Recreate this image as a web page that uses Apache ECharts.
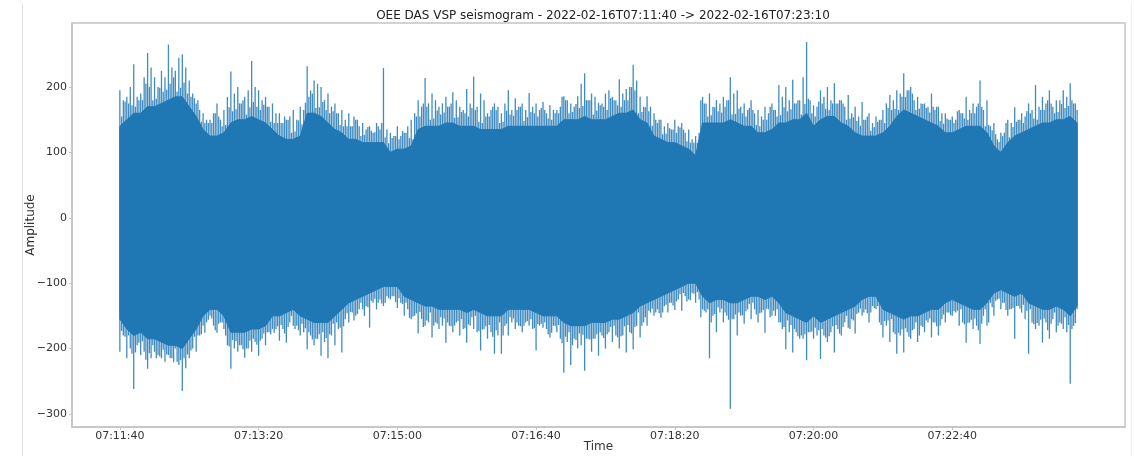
<!DOCTYPE html>
<html>
<head>
<meta charset="utf-8">
<script src="https://cdn.jsdelivr.net/npm/echarts@6/dist/echarts.min.js"></script>
<style>html,body{margin:0;padding:0;background:#fff;}#c{width:1134px;height:456px;}</style>
</head>
<body>
<div id="c"></div>
<script>
const titleText = 'OEE DAS VSP seismogram - 2022-02-16T07:11:40 -> 2022-02-16T07:23:10';
const binSeconds = 5; // envelope bins, seconds after 07:11:40
const xTickSeconds = [0, 100, 200, 300, 400, 500, 600];
const xTickLabels = ['07:11:40', '07:13:20', '07:15:00', '07:16:40', '07:18:20', '07:20:00', '07:22:40'];
const yTicks = [-300, -200, -100, 0, 100, 200];

// envelope peaks (spike tips) at bin starts
const upperPeak = [195,185,235,190,252,215,225,265,225,250,210,175,160,150,175,165,224,200,185,240,
195,185,175,160,150,165,170,232,210,200,190,175,165,160,150,145,140,145,229,130,
140,130,150,180,214,190,170,185,192,170,197,216,190,160,175,160,195,183,175,191,
175,177,172,165,186,175,186,221,190,176,190,185,212,197,234,185,186,160,150,145,
150,145,135,125,185,190,180,185,215,195,175,180,165,170,175,203,200,211,180,269,
172,195,200,206,180,188,170,177,160,155,165,188,195,221,200,185,175,190,170,160,
155,165,185,175,210,180,145,130,150,169,160,175,203,185,195,180,195,206,165];
const lowerPeak = [-205,-215,-262,-210,-231,-205,-215,-210,-200,-265,-215,-205,-165,-150,-176,-170,-231,-205,-214,-205,
-211,-195,-170,-188,-191,-165,-180,-201,-195,-211,-215,-195,-206,-160,-150,-140,-168,-140,-135,-125,
-138,-150,-155,-177,-165,-183,-170,-191,-175,-180,-191,-170,-203,-185,-208,-208,-180,-170,-175,-165,
-203,-168,-183,-175,-237,-225,-200,-234,-205,-211,-200,-190,-200,-206,-201,-183,-165,-150,-153,-145,
-141,-142,-125,-130,-140,-215,-175,-160,-292,-180,-162,-155,-160,-176,-150,-160,-201,-206,-185,-218,
-185,-216,-190,-206,-180,-168,-177,-150,-160,-140,-183,-190,-208,-206,-185,-190,-175,-183,-180,-160,
-150,-165,-191,-170,-193,-165,-150,-140,-150,-185,-145,-208,-170,-191,-185,-175,-170,-254,-140];
// spike tips half-way between bins
const upperMid = [180,200,185,215,230,200,215,230,245,230,190,165,150,160,150,185,190,175,195,200,
180,170,160,145,155,150,165,195,205,180,170,160,150,140,140,135,130,135,135,125,
125,140,160,170,175,180,175,170,180,165,175,170,180,165,170,175,165,170,165,170,
165,160,165,170,180,170,205,180,185,175,195,180,190,200,210,170,170,145,140,135,
140,130,120,130,175,170,175,180,190,170,165,160,155,160,165,185,180,175,215,180,
170,185,180,175,170,160,155,150,145,150,175,180,190,195,180,175,170,165,160,150,
150,160,165,170,165,140,120,130,145,150,155,165,170,175,170,180,185,175];
const lowerMid = [-180,-200,-195,-205,-215,-210,-220,-215,-225,-230,-200,-180,-160,-165,-160,-195,-200,-195,-200,-190,
-185,-175,-170,-170,-160,-165,-175,-180,-185,-190,-180,-170,-155,-145,-140,-135,-130,-125,-120,-120,
-130,-140,-150,-155,-160,-160,-165,-165,-160,-170,-165,-175,-170,-175,-180,-165,-160,-165,-160,-170,
-165,-170,-165,-185,-190,-185,-195,-185,-185,-180,-175,-180,-180,-175,-165,-160,-145,-140,-135,-130,
-125,-120,-115,-125,-145,-150,-145,-150,-155,-150,-140,-140,-145,-140,-150,-170,-175,-175,-185,-175,
-180,-180,-175,-170,-160,-155,-145,-140,-135,-160,-165,-175,-180,-175,-170,-165,-160,-160,-155,-145,
-145,-160,-160,-165,-150,-130,-125,-130,-140,-135,-155,-160,-165,-160,-155,-160,-175,-165];
// smaller spikes a quarter and three quarters into each bin
const upperQ1 = [155,175,170,180,200,182,193,205,193,207,185,180,145,145,155,142,163,175,158,177,
165,170,145,145,150,132,143,185,168,177,160,160,140,140,150,127,133,140,123,122,
120,130,120,155,170,152,158,170,153,162,155,165,145,155,165,147,158,165,148,162,
155,165,150,160,180,162,168,180,158,172,165,180,170,180,195,162,163,150,128,137,
130,135,115,115,175,157,163,170,158,167,155,165,140,150,165,157,163,175,158,182,
155,175,165,175,175,152,148,150,133,147,145,165,165,185,190,167,168,170,148,152,
145,160,150,160,170,142,128,125,123,147,145,160,150,165,175,162,168,180];
const upperQ3 = [178,172,180,205,180,199,196,215,199,190,183,147,145,160,140,169,166,180,169,170,
173,147,145,155,130,149,176,190,169,165,163,142,140,155,125,139,131,145,114,125,
133,122,155,175,150,164,161,175,154,160,168,147,155,170,145,164,156,170,154,160,
168,152,160,185,160,174,171,180,164,170,183,172,180,200,160,169,141,150,129,135,
138,117,115,180,155,169,161,180,159,160,168,142,150,170,155,169,166,180,174,160,
178,167,175,180,150,154,141,155,139,150,168,167,185,195,165,174,161,170,144,150,
163,152,160,175,140,134,116,145,139,150,163,152,165,180,160,174,171,175];
const lowerQ1 = [-173,-180,-206,-189,-207,-215,-202,-215,-220,-215,-203,-180,-176,-154,-162,-180,-187,-195,-200,-185,
-188,-175,-176,-164,-167,-170,-162,-175,-185,-175,-178,-160,-166,-144,-147,-150,-127,-130,-130,-120,
-123,-130,-151,-144,-157,-165,-152,-160,-165,-155,-163,-150,-171,-164,-172,-180,-152,-160,-165,-155,
-163,-160,-176,-164,-182,-195,-177,-185,-185,-175,-178,-165,-181,-164,-167,-165,-142,-145,-145,-130,
-128,-115,-126,-114,-142,-160,-137,-145,-155,-145,-143,-130,-146,-139,-142,-160,-157,-170,-180,-175,
-168,-170,-181,-164,-167,-170,-147,-145,-145,-135,-158,-155,-176,-169,-172,-180,-157,-160,-165,-145,
-143,-140,-161,-154,-162,-160,-127,-130,-140,-135,-133,-140,-161,-154,-162,-165,-152,-170];
const lowerQ3 = [-182,-208,-191,-217,-195,-212,-209,-221,-218,-209,-182,-178,-156,-172,-160,-197,-189,-201,-188,-194,
-177,-178,-166,-177,-150,-172,-169,-186,-178,-184,-162,-168,-146,-157,-130,-137,-124,-131,-123,-129,
-132,-153,-146,-167,-145,-162,-154,-166,-158,-169,-152,-173,-166,-182,-160,-162,-154,-166,-158,-169,
-162,-178,-166,-192,-175,-187,-179,-186,-178,-184,-167,-183,-166,-177,-145,-152,-139,-146,-133,-134,
-117,-128,-116,-152,-140,-147,-139,-156,-148,-149,-132,-148,-141,-152,-140,-167,-164,-181,-178,-174,
-172,-183,-166,-177,-150,-157,-139,-146,-138,-164,-157,-178,-171,-182,-160,-167,-154,-166,-148,-149,
-142,-163,-156,-172,-140,-137,-124,-141,-138,-139,-142,-163,-156,-172,-145,-162,-164,-161];
// dense core of the trace, per bin
const upperCore = [140,150,160,160,170,170,175,180,185,185,170,155,135,125,125,130,145,150,150,155,
150,145,135,125,120,120,125,160,160,155,145,135,130,120,120,115,115,115,115,100,
105,105,110,135,140,140,140,145,145,140,140,140,135,135,135,135,140,140,140,140,
140,140,140,140,150,150,150,155,150,150,150,155,160,160,165,150,145,125,120,115,
115,110,105,95,145,145,145,145,150,145,140,140,130,130,135,145,145,150,150,160,
140,150,155,155,145,140,130,125,125,125,130,140,155,165,160,155,150,145,140,130,
130,135,140,140,140,130,110,100,115,125,130,135,140,145,145,150,150,155,145];
const lowerCore = [-155,-170,-180,-175,-185,-185,-190,-195,-195,-200,-185,-170,-150,-140,-140,-150,-175,-175,-175,-170,
-170,-165,-150,-150,-145,-140,-150,-155,-160,-160,-160,-150,-140,-130,-125,-120,-115,-110,-105,-105,
-105,-120,-125,-130,-135,-135,-140,-140,-140,-140,-145,-140,-145,-150,-150,-150,-140,-140,-140,-140,
-145,-150,-150,-150,-160,-165,-165,-165,-160,-160,-160,-155,-155,-150,-145,-135,-130,-125,-120,-115,
-110,-105,-100,-100,-120,-130,-125,-125,-130,-130,-125,-120,-120,-125,-120,-130,-145,-150,-155,-160,
-150,-160,-155,-150,-145,-140,-135,-125,-120,-120,-140,-145,-150,-155,-150,-150,-145,-140,-140,-130,
-125,-130,-135,-140,-140,-130,-115,-110,-115,-120,-115,-130,-135,-140,-140,-135,-140,-150,-135];

const spikeData = upperPeak.map((u, i) => [i * binSeconds, lowerPeak[i], u])
  .concat(upperMid.map((u, i) => [(i + 0.5) * binSeconds, lowerMid[i], u]))
  .concat(upperQ1.map((u, i) => [(i + 0.25) * binSeconds, lowerQ1[i], u]))
  .concat(upperQ3.map((u, i) => [(i + 0.75) * binSeconds, lowerQ3[i], u]));
const coreData = upperCore.map((u, i) => [i * binSeconds, lowerCore[i], u]);

const blue = '#1f77b4';
const axisGray = '#c4c4c4';
const textColor = '#333333';
const font = 'DejaVu Sans';

const chart = echarts.init(document.getElementById('c'), null, {renderer: 'canvas'});
chart.setOption({
  backgroundColor: '#ffffff',
  animation: false,
  title: {
    text: titleText, left: 598, top: 5, textAlign: 'center',
    textStyle: {fontFamily: font, fontSize: 12, fontWeight: 'normal', color: '#222'}
  },
  graphic: [
    {type: 'line', shape: {x1: 22.5, y1: 3, x2: 22.5, y2: 456}, style: {stroke: '#e2e2e2', lineWidth: 1}},
    {type: 'line', shape: {x1: 1131.5, y1: 3, x2: 1131.5, y2: 456}, style: {stroke: '#eeeeee', lineWidth: 1}}
  ],
  grid: {left: 72, right: 9, top: 23, bottom: 29, show: true, borderColor: axisGray, borderWidth: 1.5,
    containLabel: false, outerBoundsMode: 'none'},
  xAxis: {
    type: 'value', min: -34.5, max: 724.5,
    name: 'Time', nameLocation: 'middle', nameGap: 14, nameMoveOverlap: false,
    nameTextStyle: {fontFamily: font, fontSize: 12, color: textColor},
    splitLine: {show: false},
    axisLine: {show: true, onZero: false, lineStyle: {color: axisGray, width: 1.5}},
    axisTick: {show: true, length: 3, lineStyle: {color: axisGray}, customValues: xTickSeconds},
    axisLabel: {
      customValues: xTickSeconds, margin: 4, fontFamily: font, fontSize: 11, color: textColor,
      formatter: v => { const k = xTickSeconds.indexOf(v); return k >= 0 ? xTickLabels[k] : ''; }
    }
  },
  yAxis: {
    type: 'value', min: -320, max: 298,
    name: 'Amplitude', nameLocation: 'middle', nameGap: 35, nameRotate: 90, nameMoveOverlap: false,
    nameTextStyle: {fontFamily: font, fontSize: 12, color: textColor},
    splitLine: {show: false},
    axisLine: {show: true, onZero: false, lineStyle: {color: axisGray, width: 1.5}},
    axisTick: {show: true, length: 3, lineStyle: {color: axisGray}, customValues: yTicks},
    axisLabel: {
      customValues: yTicks, margin: 5, fontFamily: font, fontSize: 11, color: textColor,
      formatter: v => (v < 0 ? '\u2212' + Math.abs(v) : String(v))
    }
  },
  series: [
    {
      type: 'custom', name: 'spikes', data: spikeData, z: 1,
      encode: {x: 0, y: [1, 2]},
      renderItem: (params, api) => {
        const p0 = api.coord([api.value(0), api.value(1)]);
        const p1 = api.coord([api.value(0), api.value(2)]);
        return {type: 'line', shape: {x1: p0[0], y1: p0[1], x2: p1[0], y2: p1[1]},
          style: {stroke: blue, lineWidth: 1.3, opacity: 0.85}};
      }
    },
    {
      type: 'custom', name: 'core', data: coreData, z: 2,
      encode: {x: 0, y: [1, 2]},
      renderItem: (params, api) => {
        if (params.dataIndex !== 0) return null;
        const top = coreData.map(d => api.coord([d[0], d[2]]));
        const bottom = coreData.map(d => api.coord([d[0], d[1]])).reverse();
        return {type: 'polygon', shape: {points: top.concat(bottom)},
          style: {fill: blue, stroke: blue, lineWidth: 1}};
      }
    }
  ]
});
</script>
</body>
</html>
